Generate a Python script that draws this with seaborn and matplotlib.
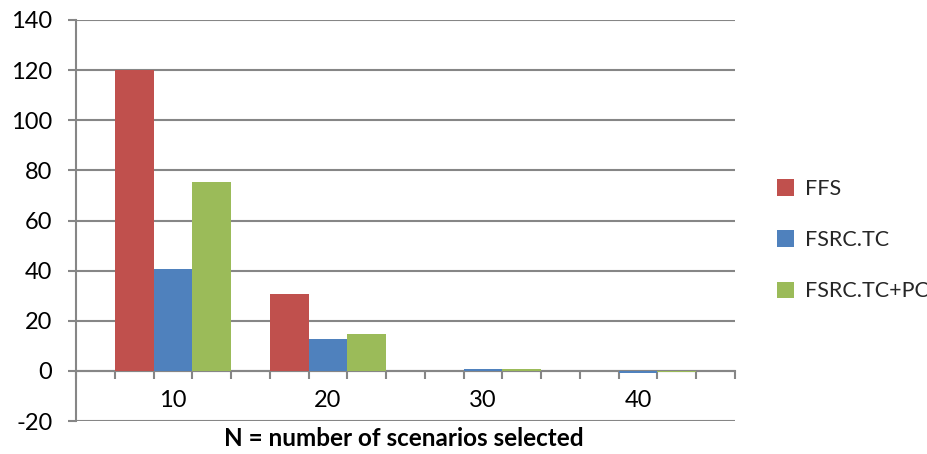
import matplotlib
matplotlib.use("Agg")
import matplotlib.pyplot as plt
import numpy as np
import pandas as pd
import seaborn as sns

# Scenario counts on the category axis and the three methods compared
n_selected = ["10", "20", "30", "40"]
methods = ["FFS", "FSRC.TC", "FSRC.TC+PC"]
ffs = [120.0, 30.8, 0.0, 0.0]
fsrc_tc = [40.8, 12.9, 0.6, -0.9]
fsrc_tc_pc = [75.2, 14.8, 0.8, -0.5]
y_ticks = [-20, 0, 20, 40, 60, 80, 100, 120, 140]

colors = ["#C0504D", "#4F81BD", "#9BBB59"]
grey = "#868686"

df = pd.DataFrame({
    "N": n_selected * 3,
    "method": [m for m in methods for _ in n_selected],
    "value": ffs + fsrc_tc + fsrc_tc_pc,
})

sns.set_theme(style="white")
plt.rcParams["font.family"] = ["Lato", "DejaVu Sans"]
plt.rcParams["axes.unicode_minus"] = False

fig = plt.figure(figsize=(9.28, 4.54), dpi=100)
ax = fig.add_axes([76 / 928, 1 - 421 / 454, (735 - 76) / 928, (421 - 20) / 454])

sns.barplot(data=df, x="N", y="value", hue="method", order=n_selected,
            hue_order=methods, palette=colors, width=0.75, dodge=True,
            saturation=1, linewidth=0, errorbar=None, ax=ax)

ax.set_xlim(-0.625, 3.625)
ax.set_ylim(-20, 140)
ax.set_yticks(y_ticks)
ax.yaxis.grid(True, color=grey, linewidth=1.5)
ax.set_axisbelow(True)

for side in ["top", "right"]:
    ax.spines[side].set_visible(False)
ax.spines["left"].set_color(grey)
ax.spines["left"].set_linewidth(1.5)
ax.spines["bottom"].set_position(("data", 0))
ax.spines["bottom"].set_color(grey)
ax.spines["bottom"].set_linewidth(1.5)
ax.spines["bottom"].set_zorder(0.5)

# category labels at group centres, tick marks at every bar edge
ax.set_xticks(range(len(n_selected)))
ax.set_xticklabels(n_selected)
ax.set_xticks(np.arange(-0.625, 3.626, 0.25), minor=True)
ax.tick_params(axis="x", which="major", length=0, pad=14, labelsize=17,
               labelcolor="black")
ax.tick_params(axis="x", which="minor", length=6, width=1.5, color=grey,
               direction="out", bottom=True)
ax.tick_params(axis="y", which="major", length=6, width=1.5, color=grey,
               direction="out", left=True, pad=11, labelsize=17,
               labelcolor="black")

ax.set_xlabel("")
ax.set_ylabel("")
fig.text(404 / 928, 1 - 439 / 454, "N = number of scenarios selected",
         fontsize=17.5, fontweight="bold", color="black",
         ha="center", va="center")

leg = ax.legend(loc="center left", bbox_to_anchor=(777 / 928, 1 - 240 / 454),
                bbox_transform=fig.transFigure, frameon=False, fontsize=15.5,
                handlelength=0.8, handleheight=0.8, handletextpad=0.5,
                labelspacing=1.45, borderpad=0, borderaxespad=0)

fig.savefig("out.png", dpi=100)
